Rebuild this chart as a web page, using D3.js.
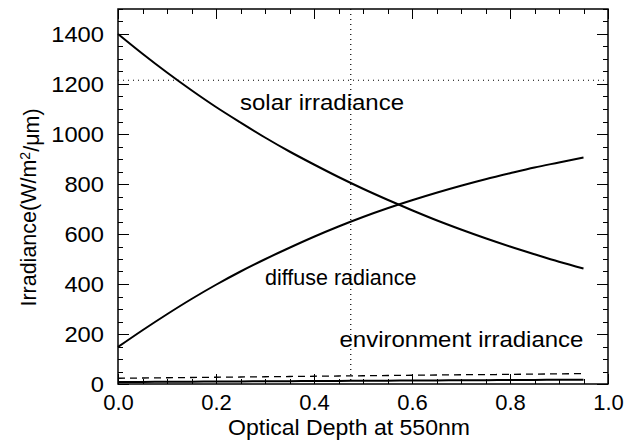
<!DOCTYPE html>
<html>
<head>
<meta charset="utf-8">
<script src="https://cdn.jsdelivr.net/npm/d3@7"></script>
<style>
  html, body { margin: 0; padding: 0; background: #fff; }
  svg { display: block; }
  text { font-family: "Liberation Sans", Arial, Helvetica, sans-serif; fill: #000; }
</style>
</head>
<body>
<svg id="chart" width="626" height="441"></svg>
<script>
// Optical depth samples (550 nm)
const depth = [0, 0.05, 0.1, 0.15, 0.2, 0.25, 0.3, 0.35, 0.4, 0.45,
               0.5, 0.55, 0.6, 0.65, 0.7, 0.75, 0.8, 0.85, 0.9, 0.95];
// Direct solar irradiance
const solar = [1400, 1321, 1246, 1175, 1108, 1046, 986, 930, 878, 828,
               781, 737, 695, 655, 618, 583, 550, 519, 489, 462];
// Diffuse radiance
const diffuse = [148, 215, 279, 340, 397, 450, 499, 545, 589, 630,
                 668, 703, 735, 765, 793, 819, 843, 866, 886, 906];
// Environment irradiance (two cases)
const envSolid = [8, 8.5, 9, 9.5, 10, 10.5, 11, 11.5, 12, 12.5,
                  13, 13.5, 14, 14.5, 15, 15.5, 16, 16.5, 17, 17.5];
const envDashed = [23, 24, 25, 26, 27, 28, 29, 30, 31, 32,
                   33, 34, 35, 36, 37, 37.5, 38.5, 39.5, 40.5, 41.5];
// Reference markers
const refDepth = 0.475;
const refIrradiance = 1215;
// Axis ticks
const xMajor = [0, 0.2, 0.4, 0.6, 0.8, 1.0];
const yMajor = [0, 200, 400, 600, 800, 1000, 1200, 1400];
// Curve captions (anchored at depth / irradiance; w = fitted text width)
const captions = [
  { text: "solar irradiance", x: 0.249, y: 1095, w: 164 },
  { text: "diffuse radiance", x: 0.300, y: 395, w: null },
  { text: "environment irradiance", x: 0.452, y: 150, w: 244 }
];

const svg = d3.select("#chart");
const L = 118, R = 608, T = 9, B = 384;
const x = d3.scaleLinear().domain([0, 1]).range([L, R]);
const y = d3.scaleLinear().domain([0, 1500]).range([B, T]);

const xMinor = d3.range(0, 1.0001, 0.05);
const yMinor = d3.range(0, 1500.1, 50);

// Frame
svg.append("rect").attr("x", L).attr("y", T).attr("width", R - L).attr("height", B - T)
  .attr("fill", "none").attr("stroke", "#000").attr("stroke-width", 1.5);

// Inward ticks on all four sides
const ticks = svg.append("g").attr("stroke", "#000").attr("stroke-width", 1);
const isMajorX = v => xMajor.some(m => Math.abs(m - v) < 1e-6);
const isMajorY = v => yMajor.some(m => Math.abs(m - v) < 1e-6);
xMinor.forEach(v => {
  const len = isMajorX(v) ? 10 : 5;
  const px = Math.round(x(v)) + 0.5;
  ticks.append("line").attr("x1", px).attr("x2", px).attr("y1", B).attr("y2", B - len);
  ticks.append("line").attr("x1", px).attr("x2", px).attr("y1", T).attr("y2", T + len);
});
yMinor.forEach(v => {
  const len = isMajorY(v) ? 11 : 5;
  const py = Math.round(y(v)) + 0.5;
  ticks.append("line").attr("x1", L).attr("x2", L + len).attr("y1", py).attr("y2", py);
  ticks.append("line").attr("x1", R).attr("x2", R - len).attr("y1", py).attr("y2", py);
});

// Tick labels via axis generators
const xAxis = d3.axisBottom(x).tickValues(xMajor).tickFormat(d3.format(".1f")).tickSize(0).tickPadding(0);
const gx = svg.append("g").attr("transform", `translate(0,${B})`).call(xAxis);
gx.select(".domain").remove();
gx.selectAll("text").attr("dy", null).attr("y", 26).style("font-size", "22px")
  .style("font-family", "'Liberation Sans', Arial, sans-serif");

const yAxis = d3.axisLeft(y).tickValues(yMajor).tickFormat(d3.format("d")).tickSize(0).tickPadding(0);
const gy = svg.append("g").attr("transform", `translate(${L - 14},0)`).call(yAxis);
gy.select(".domain").remove();
gy.selectAll("text").attr("x", 0).attr("dy", "0.36em").style("font-size", "22px")
  .style("font-family", "'Liberation Sans', Arial, sans-serif")
  .attr("textLength", d => String(d).length * 13.2).attr("lengthAdjust", "spacingAndGlyphs");

// Axis titles
svg.append("text").attr("x", 349).attr("y", 435).attr("text-anchor", "middle")
  .style("font-size", "22px").attr("textLength", 242).attr("lengthAdjust", "spacingAndGlyphs")
  .text("Optical Depth at 550nm");

const yt = svg.append("text").attr("transform", `translate(36,${(T + B) / 2 + 11}) rotate(-90)`)
  .attr("text-anchor", "middle").style("font-size", "21.5px");
yt.append("tspan").text("Irradiance(W/m");
yt.append("tspan").attr("dy", "-0.45em").style("font-size", "14px").text("2");
yt.append("tspan").attr("dy", "0.45em").text("/\u03BCm)");

// Reference dotted lines
svg.append("line").attr("x1", x(refDepth)).attr("x2", x(refDepth)).attr("y1", T).attr("y2", B)
  .attr("stroke", "#000").attr("stroke-width", 1.2).attr("stroke-dasharray", "1,4");
svg.append("line").attr("x1", L).attr("x2", R).attr("y1", y(refIrradiance)).attr("y2", y(refIrradiance))
  .attr("stroke", "#000").attr("stroke-width", 1.2).attr("stroke-dasharray", "1,4");

// Curves
const line = d3.line().x((d, i) => x(depth[i])).y(d => y(d)).curve(d3.curveMonotoneX);
[solar, diffuse, envSolid].forEach(s => {
  svg.append("path").datum(s).attr("d", line).attr("fill", "none")
    .attr("stroke", "#000").attr("stroke-width", 2);
});
svg.append("path").datum(envDashed).attr("d", line).attr("fill", "none")
  .attr("stroke", "#000").attr("stroke-width", 1.3).attr("stroke-dasharray", "7,5");

// Captions
captions.forEach(c => {
  const t = svg.append("text").attr("x", x(c.x)).attr("y", y(c.y)).style("font-size", "21.5px").text(c.text);
  if (c.w) t.attr("textLength", c.w).attr("lengthAdjust", "spacingAndGlyphs");
});
</script>
</body>
</html>
